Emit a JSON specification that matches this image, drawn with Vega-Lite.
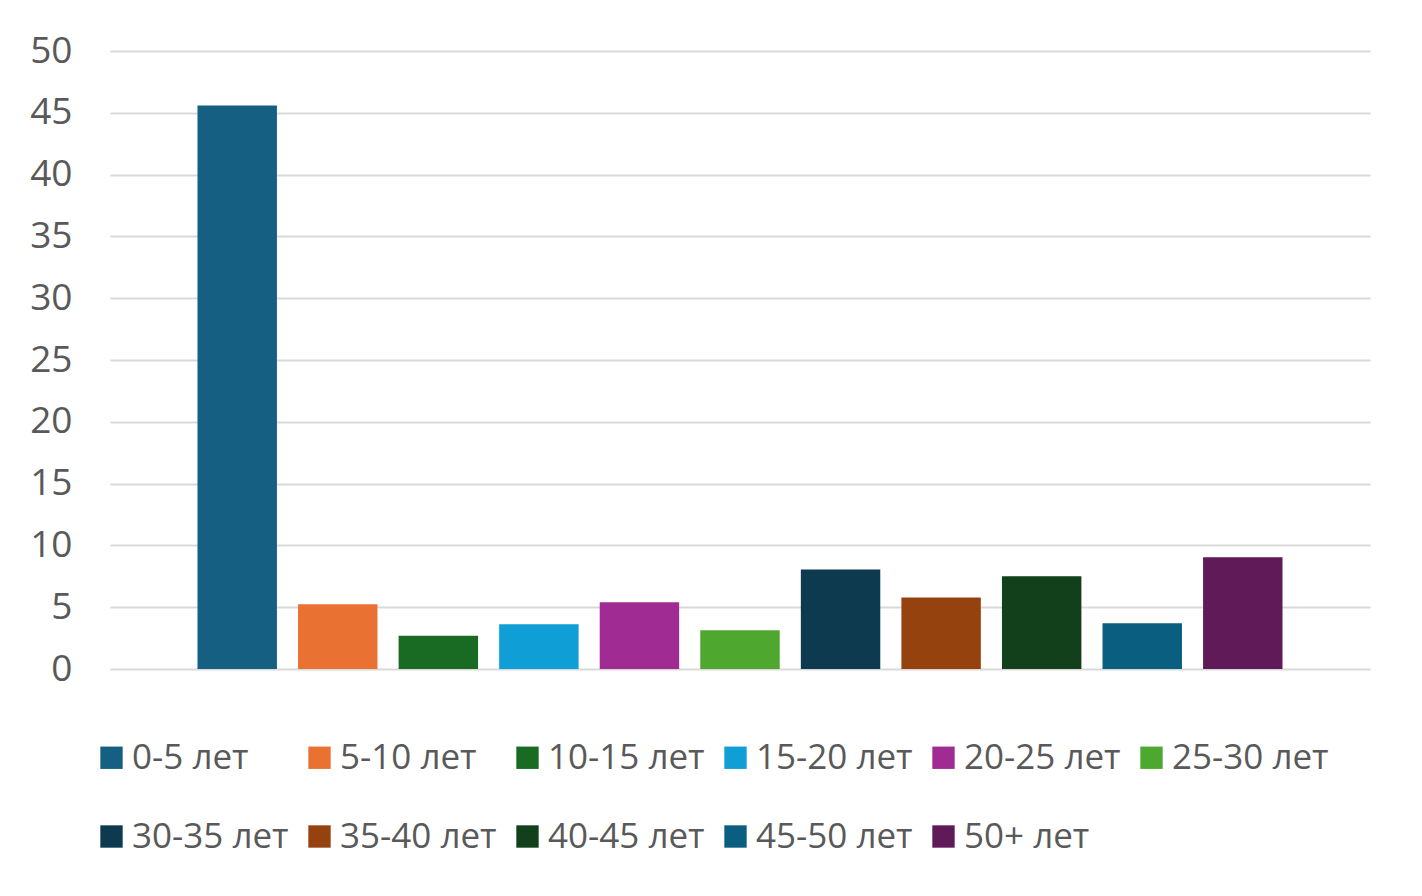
{
  "$schema": "https://vega.github.io/schema/vega-lite/v6.json",
  "description": "Распределение по возрасту (лет)",
  "autosize": "none",
  "width": 1260,
  "height": 618,
  "padding": {"left": 110, "top": 51, "right": 52, "bottom": 227},
  "background": "#ffffff",
  "data": {
    "values": [
      {"group": "0-5 лет", "value": 45.6},
      {"group": "5-10 лет", "value": 5.24},
      {"group": "10-15 лет", "value": 2.7},
      {"group": "15-20 лет", "value": 3.62},
      {"group": "20-25 лет", "value": 5.4},
      {"group": "25-30 лет", "value": 3.13},
      {"group": "30-35 лет", "value": 8.05},
      {"group": "35-40 лет", "value": 5.79},
      {"group": "40-45 лет", "value": 7.51},
      {"group": "45-50 лет", "value": 3.7},
      {"group": "50+ лет", "value": 9.05}
    ]
  },
  "mark": {"type": "bar"},
  "encoding": {
    "x": {
      "field": "group",
      "type": "nominal",
      "sort": null,
      "scale": {"paddingInner": 0.21, "paddingOuter": 0.87},
      "axis": null
    },
    "y": {
      "field": "value",
      "type": "quantitative",
      "scale": {"domain": [0, 50], "nice": false},
      "axis": {
        "title": null,
        "values": [0, 5, 10, 15, 20, 25, 30, 35, 40, 45, 50],
        "domain": false,
        "ticks": false,
        "labelPadding": 38,
        "labelFontSize": 37,
        "labelFont": "Open Sans",
        "labelColor": "#595959",
        "gridColor": "#D9D9D9",
        "gridWidth": 2
      }
    },
    "color": {
      "field": "group",
      "type": "nominal",
      "sort": null,
      "scale": {
        "domain": ["0-5 лет", "5-10 лет", "10-15 лет", "15-20 лет", "20-25 лет", "25-30 лет", "30-35 лет", "35-40 лет", "40-45 лет", "45-50 лет", "50+ лет"],
        "range": ["#156082", "#E97132", "#196B24", "#0F9ED5", "#A02B93", "#4EA72E", "#0D3A4F", "#96420F", "#11401A", "#0A5E7F", "#601A58"]
      },
      "legend": {
        "title": null,
        "orient": "none",
        "legendX": -16,
        "legendY": 689,
        "direction": "horizontal",
        "columns": 6,
        "gridAlign": "all",
        "columnPadding": 13,
        "rowPadding": 43,
        "padding": 0,
        "symbolType": "square",
        "symbolSize": 500,
        "symbolStrokeWidth": 0,
        "labelOffset": 3,
        "labelFontSize": 35,
        "labelFont": "Open Sans",
        "labelColor": "#595959",
        "labelLimit": 400
      }
    }
  },
  "config": {
    "view": {"stroke": null}
  }
}
